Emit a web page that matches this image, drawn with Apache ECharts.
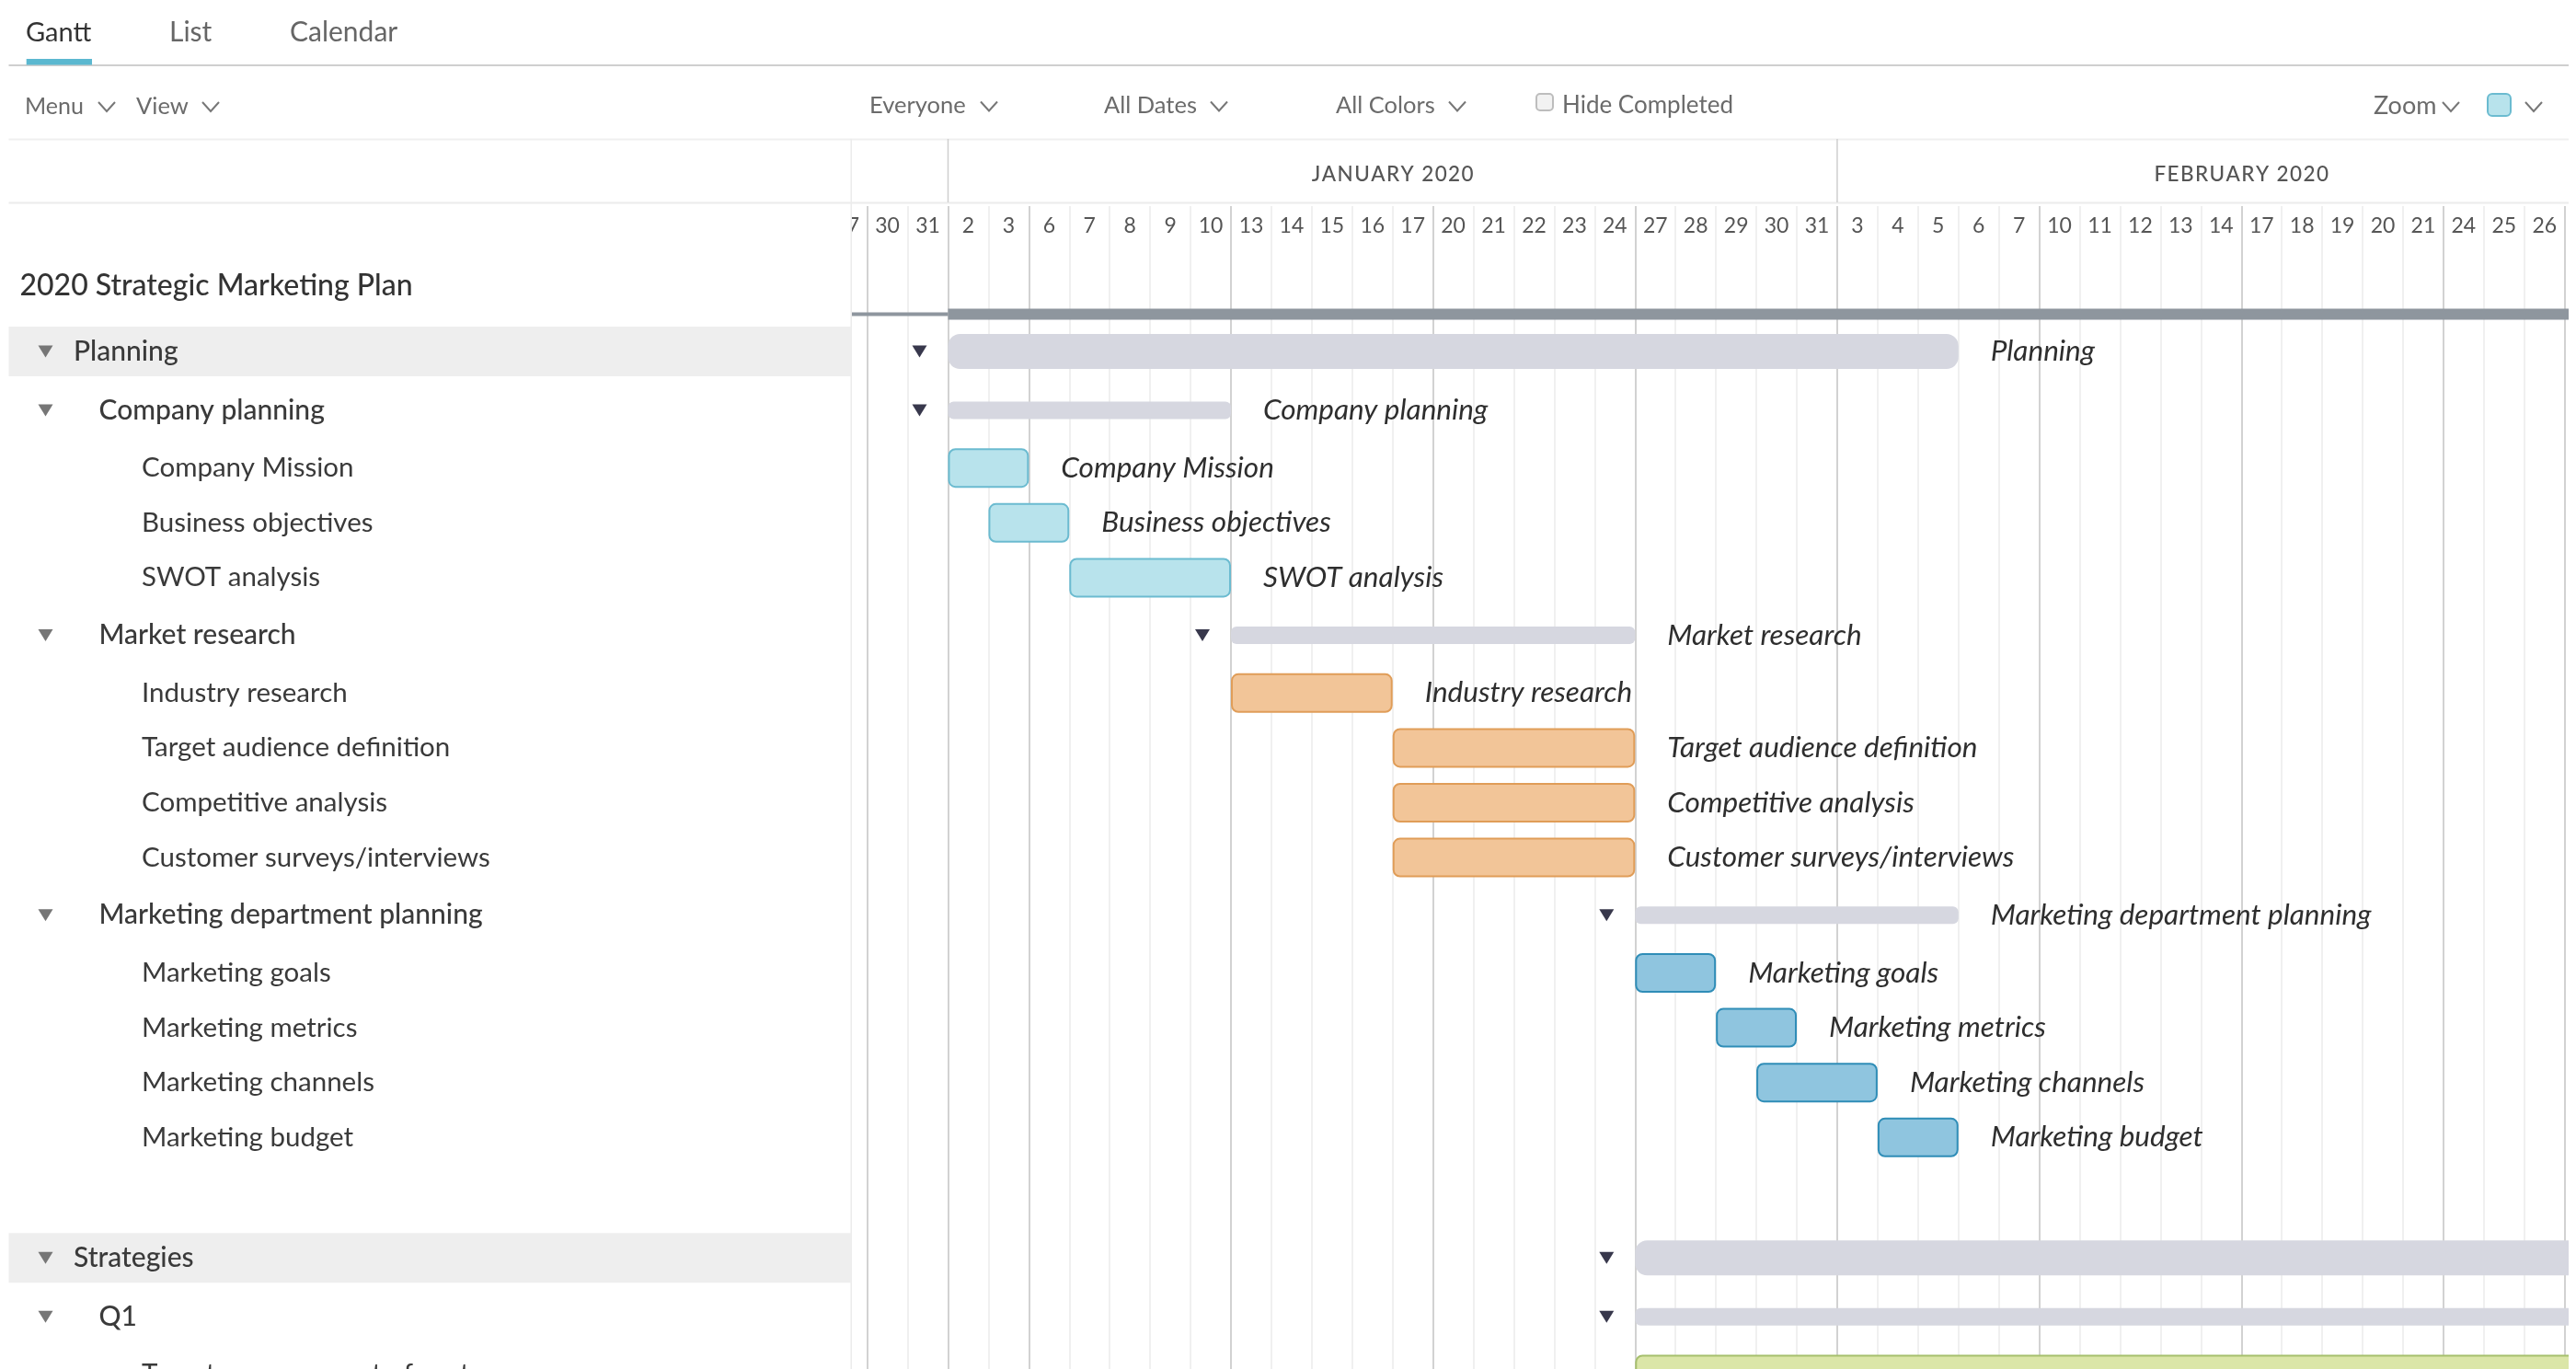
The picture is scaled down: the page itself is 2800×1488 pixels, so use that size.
<!DOCTYPE html>
<html><head><meta charset="utf-8">
<style>html,body{margin:0;padding:0;background:#fff}#c{width:2800px;height:1488px}</style>
<script src="https://cdn.jsdelivr.net/npm/echarts@6/dist/echarts.min.js"></script>
</head><body><div id="c"></div>
<script>
// ---- data ----
const dayLabels = ["27","30","31","2","3","6","7","8","9","10","13","14","15","16","17","20","21","22","23","24","27","28","29","30","31","3","4","5","6","7","10","11","12","13","14","17","18","19","20","21","24","25","26"];
const weekStartCols = [1,3,5,10,15,20,25,30,35,40];
const monthNames = ["JANUARY 2020","FEBRUARY 2020"];
const monthStarts = [3,25];
const monthDays = [22,20];
const projectName = "2020 Strategic Marketing Plan";
const projectStart = 3;
const projectDays = 41;
const rowNames = ["Planning","Company planning","Company Mission","Business objectives","SWOT analysis","Market research","Industry research","Target audience definition","Competitive analysis","Customer surveys/interviews","Marketing department planning","Marketing goals","Marketing metrics","Marketing channels","Marketing budget","","Strategies","Q1","Target new segment of customers"];
const rowLevels = [0,1,2,2,2,1,2,2,2,2,1,2,2,2,2,-1,0,1,2];
const rowStarts = [3,3,3,4,6,10,10,14,14,14,20,20,22,23,26,0,20,20,20];
const rowDays =   [25,7,2,2,4,10,4,6,6,6,8,2,2,3,2,0,24,24,24];
const rowGroups = ["","","teal","teal","teal","","orange","orange","orange","orange","","blue","blue","blue","blue","","","","green"];

// ---- layout & style ----
const FONT = 'Lato';
const W = 2800, H = 1488, GRID_TOP = 224, LEFT = 925.5, RIGHT = 2792;
const BAND = 43.93;
const barColors = {
  teal:{fill:'#b8e3ec',stroke:'#6bbbd0'},
  orange:{fill:'#f2c598',stroke:'#e09d58'},
  blue:{fill:'#8fc5df',stroke:'#2f8db7'},
  green:{fill:'#dbe6a8',stroke:'#a6bf6d'}
};
const rowHeights = {0:62.2,1:65.8,2:59.6,'-1':70};
// y-axis offsets of the row centres (axis units: from the grid top)
const rowOffsets = [];
(function(){let y = 382 - 31.1 - GRID_TOP; rowLevels.forEach(l=>{const h=rowHeights[l]; rowOffsets.push(y+h/2); y+=h;});})();
const projectOffset = 341.5 - GRID_TOP;

const rowData = rowNames.map((n,i)=>[rowStarts[i],rowDays[i],rowOffsets[i],i]);
const monthData = monthNames.map((n,i)=>[monthStarts[i],monthDays[i],0,i]);

function tri(cx,cy,w,h,fill){return {type:'polygon',shape:{points:[[cx-w/2,cy-h/2],[cx+w/2,cy-h/2],[cx,cy+h/2]]},style:{fill}};}

function renderRow(params,api){
  const i = api.value(3), lvl = rowLevels[i];
  if(lvl<0) return {type:'group',children:[]};
  const p = api.coord([api.value(0),api.value(2)]);
  const band = api.size([1,0])[0];
  const x0 = p[0]-band/2, cy = p[1], w = api.value(1)*band, ch = [];
  if(lvl===0) ch.push({type:'rect',shape:{x:9.5,y:cy-27,width:LEFT-9.5,height:54},style:{fill:'#eeeeee'}});
  if(lvl<2) ch.push(tri(49.5,cy,16,13,'#767676'));
  ch.push({type:'text',style:{text:rowNames[i],x:[80,107.5,154][lvl],y:cy,fontFamily:FONT,fontSize:lvl<2?30:29.5,fontWeight:lvl<2?500:400,fill:'#3a3a3a',verticalAlign:'middle'}});
  if(lvl===2){
    const c = barColors[rowGroups[i]];
    ch.push({type:'rect',shape:{x:x0+1,y:cy-20.5,width:w-2,height:41,r:7},style:{fill:c.fill,stroke:c.stroke,lineWidth:2}});
  } else {
    const h = lvl===0?38:19;
    ch.push({type:'rect',shape:{x:x0,y:cy-h/2,width:w,height:h,r:lvl===0?13:6},style:{fill:'#d6d7e0'}});
    ch.push(tri(x0-31,cy,16,13,'#38384c'));
  }
  if(api.value(0)+api.value(1)<dayLabels.length){
    ch.push({type:'text',style:{text:rowNames[i],x:x0+w+35,y:cy,fontFamily:FONT,fontStyle:'italic',fontSize:31.5,fill:'#2e2e2e',verticalAlign:'middle'}});
  }
  return {type:'group',children:ch};
}
function renderProject(params,api){
  const start = api.coord([api.value(0),api.value(2)]);
  const band = api.size([1,0])[0];
  const x0 = start[0]-band/2, cy = start[1];
  return {type:'group',children:[
    {type:'rect',shape:{x:x0-3*band,y:cy-2,width:3*band,height:4},style:{fill:'#8e969e'}},
    {type:'rect',shape:{x:x0,y:cy-6,width:api.value(1)*band,height:12},style:{fill:'#8e969e'}}
  ]};
}
function renderMonth(params,api){
  const i = api.value(3);
  const p = api.coord([api.value(0),0]);
  const band = api.size([1,0])[0];
  const x0 = p[0]-band/2;
  return {type:'group',children:[
    {type:'line',shape:{x1:x0,y1:151,x2:x0,y2:220},style:{stroke:'#cfcfcf',lineWidth:1.5}},
    {type:'text',style:{text:monthNames[i].split('').join('\u200A'),x:x0+api.value(1)*band/2,y:189.5,align:'center',verticalAlign:'middle',fontFamily:FONT,fontWeight:500,fontSize:22.5,fill:'#555'}}
  ]};
}

// toolbar chrome
const topTexts = [
 ["Gantt",28,35.5,29,'#333'],["List",184,35.5,30,'#666'],["Calendar",315,35.5,30,'#666'],
 ["Menu",27,116,25,'#6b6b6b'],["View",148,116,25.5,'#6b6b6b'],
 ["Everyone",945,114.5,25.5,'#6b6b6b'],["All Dates",1200,114.5,25.5,'#6b6b6b'],["All Colors",1452,114.5,25.5,'#6b6b6b'],["Hide Completed",1698,114.5,26,'#6b6b6b'],
 ["Zoom",2580,115.5,27,'#6b6b6b']
];
const chevrons = [[116,116],[229,116],[1075,115.5],[1325,115.5],[1584,115.5],[2664,116],[2754,116]];
const chrome = [];
chrome.push({type:'rect',z:50,shape:{x:0,y:0,width:LEFT,height:H},style:{fill:'#fff'}});
chrome.push({type:'rect',z:90,shape:{x:RIGHT,y:0,width:W-RIGHT,height:H},style:{fill:'#fff'}});
chrome.push({type:'rect',z:51,shape:{x:9.5,y:70,width:RIGHT-9.5,height:2},style:{fill:'#cfcfcf'}});
chrome.push({type:'rect',z:52,shape:{x:28.7,y:64,width:71.3,height:6.5},style:{fill:'#5bb8d0'}});
chrome.push({type:'rect',z:51,shape:{x:9.5,y:150.5,width:RIGHT-9.5,height:2},style:{fill:'#efefef'}});
chrome.push({type:'rect',z:51,shape:{x:9.5,y:219.5,width:RIGHT-9.5,height:2},style:{fill:'#ececec'}});
chrome.push({type:'rect',z:51,shape:{x:LEFT-1,y:151,width:1.5,height:H-151},style:{fill:'#ececec'}});
topTexts.forEach(t=>chrome.push({type:'text',z:52,style:{text:t[0],x:t[1],y:t[2],fontFamily:FONT,fontSize:t[3],fill:t[4],verticalAlign:'middle'}}));
chrome.push({type:'text',z:52,style:{text:projectName,x:21.5,y:311,fontFamily:FONT,fontSize:32,fontWeight:500,fill:'#333',verticalAlign:'middle'}});
chevrons.forEach(c=>chrome.push({type:'polyline',z:52,shape:{points:[[c[0]-9,c[1]-5],[c[0],c[1]+5],[c[0]+9,c[1]-5]]},style:{stroke:'#777',lineWidth:2,fill:null}}));
chrome.push({type:'rect',z:52,shape:{x:1670,y:102,width:18,height:18,r:4},style:{fill:'#f2f2f2',stroke:'#bdbdbd',lineWidth:2}});
chrome.push({type:'rect',z:52,shape:{x:2704,y:102,width:25,height:24,r:5},style:{fill:'#b8e3ec',stroke:'#6bbbd0',lineWidth:2}});

const chart = echarts.init(document.getElementById('c'),null,{renderer:'canvas',width:W,height:H});
chart.setOption({
  animation:false,
  backgroundColor:'#fff',
  grid:{left:898.7,top:GRID_TOP,width:BAND*dayLabels.length,height:H-GRID_TOP,containLabel:false},
  xAxis:[
    {type:'category',position:'top',data:dayLabels,boundaryGap:true,axisLine:{show:false},axisTick:{show:false},
     axisLabel:{show:true,inside:true,interval:0,margin:10,fontFamily:FONT,fontSize:23,color:'#555'},
     splitLine:{show:true,interval:0,lineStyle:{color:'#ebebeb',width:1.5}}},
    {type:'category',position:'top',data:dayLabels,boundaryGap:true,axisLine:{show:false},axisTick:{show:false},axisLabel:{show:false},
     splitLine:{show:true,interval:(i)=>weekStartCols.includes(i),lineStyle:{color:'#c9c9c9',width:1.5}}}
  ],
  yAxis:{type:'value',inverse:true,min:0,max:H-GRID_TOP,show:false,splitLine:{show:false}},
  graphic:{elements:chrome},
  series:[
    {type:'custom',name:'project',z:30,renderItem:renderProject,encode:{x:0,y:2},data:[[projectStart,projectDays,projectOffset,0]],silent:true},
    {type:'custom',name:'rows',z:60,renderItem:renderRow,encode:{x:0,y:2},data:rowData,silent:true},
    {type:'custom',name:'months',z:60,renderItem:renderMonth,encode:{x:0},data:monthData,silent:true}
  ]
});
</script></body></html>
